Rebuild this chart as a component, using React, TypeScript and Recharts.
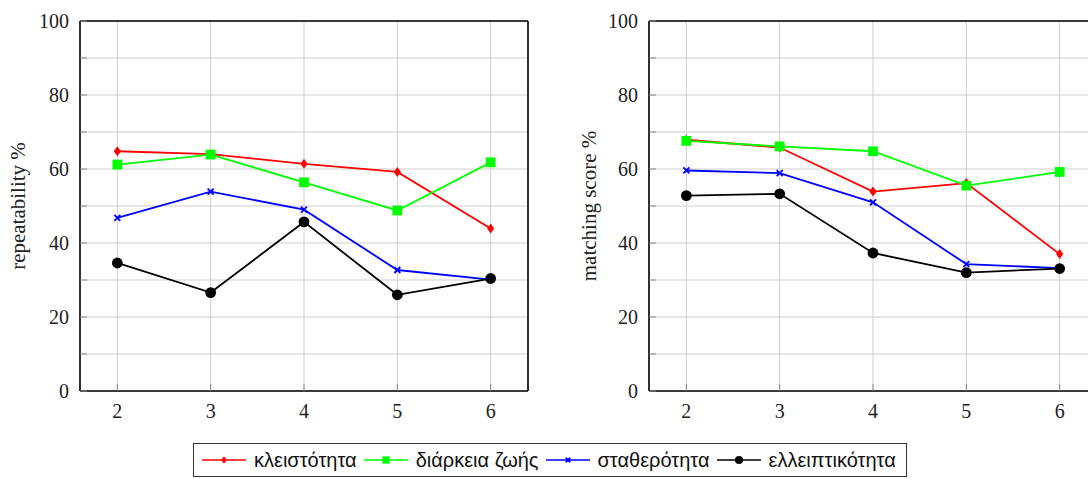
import { CartesianGrid, Line, LineChart, XAxis, YAxis } from 'recharts';

const xValues = [2, 3, 4, 5, 6];
const xTicks = [2, 3, 4, 5, 6];
const yTicks = [0, 10, 20, 30, 40, 50, 60, 70, 80, 90, 100];

// repeatability %
const repKleist = [64.8, 64.0, 61.4, 59.2, 43.9];
const repDiark = [61.2, 63.9, 56.4, 48.8, 61.8];
const repStath = [46.8, 53.9, 49.0, 32.7, 30.1];
const repEllei = [34.6, 26.6, 45.7, 26.0, 30.4];

// matching score %
const msKleist = [67.9, 65.8, 53.9, 56.2, 37.0];
const msDiark = [67.6, 66.1, 64.8, 55.5, 59.2];
const msStath = [59.6, 58.9, 51.0, 34.3, 33.2];
const msEllei = [52.8, 53.3, 37.3, 32.0, 33.1];

const seriesNames = ['κλειστότητα', 'διάρκεια ζωής', 'σταθερότητα', 'ελλειπτικότητα'];
const seriesKeys = ['kleist', 'diark', 'stath', 'ellei'];
const seriesColors = ['#ff0000', '#00ff00', '#0000ff', '#000000'];
const seriesShapes = ['diamond', 'square', 'cross', 'circle'];

type Row = { x: number; kleist: number; diark: number; stath: number; ellei: number };

function buildRows(a: number[], b: number[], c: number[], d: number[]): Row[] {
    return xValues.map((x, i) => ({ x, kleist: a[i], diark: b[i], stath: c[i], ellei: d[i] }));
}

const repRows = buildRows(repKleist, repDiark, repStath, repEllei);
const msRows = buildRows(msKleist, msDiark, msStath, msEllei);

function Marker({ shape, color, cx, cy, s = 1 }: { shape: string; color: string; cx: number; cy: number; s?: number }) {
    if (shape === 'diamond') {
        const w = 3.6 * s;
        const h = 5 * s;
        return <polygon points={`${cx},${cy - h} ${cx + w},${cy} ${cx},${cy + h} ${cx - w},${cy}`} fill={color} />;
    }
    if (shape === 'square') {
        const h = 4.9 * s;
        return <rect x={cx - h} y={cy - h} width={2 * h} height={2 * h} fill={color} />;
    }
    if (shape === 'cross') {
        const h = 3 * s;
        return (
            <g stroke={color} strokeWidth={1.8}>
                <line x1={cx - h} y1={cy - h} x2={cx + h} y2={cy + h} />
                <line x1={cx - h} y1={cy + h} x2={cx + h} y2={cy - h} />
            </g>
        );
    }
    return <circle cx={cx} cy={cy} r={5.4 * s} fill={color} />;
}

const dotFor = (shape: string, color: string) => (props: any) => {
    const { cx, cy, index } = props;
    return (
        <g key={`dot-${shape}-${index}`}>
            <Marker shape={shape} color={color} cx={cx} cy={cy} />
        </g>
    );
};

const SERIF = 'Liberation Serif';
const frame = { stroke: '#000', strokeWidth: 1.6 };
const tickMark = { stroke: '#888' };

const xTick = (props: any) => (
    <text x={props.x} y={props.y} dy="0.75em" textAnchor="middle" fontFamily={SERIF} fontSize={20} fill="#222">
        {props.payload.value}
    </text>
);

const yTick = (props: any) => {
    const v = props.payload.value;
    if (v % 20 !== 0) return <g />;
    return (
        <text x={props.x} y={props.y} dy="0.35em" textAnchor="end" fontFamily={SERIF} fontSize={20} fill="#222">
            {v}
        </text>
    );
};

interface PanelProps {
    rows: Row[];
    label: string;
    left: number;
    width: number;
    yAxisWidth: number;
    marginRight: number;
    labelX: number;
}

function Panel({ rows, label, left, width, yAxisWidth, marginRight, labelX }: PanelProps) {
    return (
        <div style={{ position: 'absolute', left, top: 0 }}>
            <LineChart
                width={width}
                height={440}
                data={rows}
                margin={{ top: 20, right: marginRight, bottom: 24, left: 0 }}
            >
                <CartesianGrid stroke="#cfcfcf" strokeWidth={1} />
                <XAxis
                    dataKey="x"
                    type="number"
                    domain={[1.6, 6.4]}
                    ticks={xTicks}
                    allowDataOverflow
                    height={25}
                    tickSize={-7}
                    tickMargin={19}
                    tick={xTick}
                    axisLine={frame}
                    tickLine={tickMark}
                />
                <XAxis
                    xAxisId="top"
                    orientation="top"
                    dataKey="x"
                    type="number"
                    domain={[1.6, 6.4]}
                    ticks={xTicks}
                    allowDataOverflow
                    height={1}
                    tickSize={-7}
                    tick={false}
                    axisLine={frame}
                    tickLine={tickMark}
                />
                <YAxis
                    type="number"
                    domain={[0, 100]}
                    ticks={yTicks}
                    width={yAxisWidth}
                    tickSize={-7}
                    tickMargin={18}
                    tick={yTick}
                    axisLine={frame}
                    tickLine={tickMark}
                    label={{
                        content: (p: any) => {
                            const vb = p.viewBox || {};
                            const cy = (vb.y ?? 0) + (vb.height ?? 0) / 2;
                            return (
                                <text
                                    x={labelX}
                                    y={cy}
                                    transform={`rotate(-90 ${labelX} ${cy})`}
                                    textAnchor="middle"
                                    fontFamily={SERIF}
                                    fontSize={21}
                                    fill="#222"
                                >
                                    {label}
                                </text>
                            );
                        },
                    }}
                />
                <YAxis
                    yAxisId="right"
                    orientation="right"
                    type="number"
                    domain={[0, 100]}
                    ticks={yTicks}
                    width={1}
                    tickSize={-7}
                    tick={false}
                    axisLine={frame}
                    tickLine={tickMark}
                />
                {seriesKeys.map((k, i) => (
                    <Line
                        key={k}
                        dataKey={k}
                        type="linear"
                        stroke={seriesColors[i]}
                        strokeWidth={1.8}
                        dot={dotFor(seriesShapes[i], seriesColors[i])}
                        activeDot={false}
                        isAnimationActive={false}
                    />
                ))}
            </LineChart>
        </div>
    );
}

function LegendBox() {
    return (
        <div
            style={{
                position: 'absolute',
                left: 193,
                top: 443,
                width: 704,
                height: 32,
                border: '1px solid #333',
                display: 'flex',
                alignItems: 'center',
                paddingLeft: 8,
                boxSizing: 'content-box',
                fontFamily: 'Liberation Sans',
                fontSize: 20,
                color: '#111',
                whiteSpace: 'nowrap',
            }}
        >
            {seriesNames.map((name, i) => (
                <div key={name} style={{ display: 'flex', alignItems: 'center', marginRight: 7 }}>
                    <svg width={44} height={20}>
                        <line x1={0} y1={10} x2={44} y2={10} stroke={seriesColors[i]} strokeWidth={1.5} />
                        <Marker shape={seriesShapes[i]} color={seriesColors[i]} cx={22} cy={10} s={0.75} />
                    </svg>
                    <span style={{ marginLeft: 8 }}>{name}</span>
                </div>
            ))}
        </div>
    );
}

export default function App() {
    return (
        <div style={{ position: 'absolute', left: 0, top: 0, width: 1088, height: 479, overflow: 'hidden', background: '#fff' }}>
            <Panel rows={repRows} label="repeatability %" left={0} width={540} yAxisWidth={80} marginRight={11} labelX={25} />
            <Panel rows={msRows} label="matching score %" left={560} width={560} yAxisWidth={89} marginRight={22} labelX={36} />
            <LegendBox />
        </div>
    );
}
